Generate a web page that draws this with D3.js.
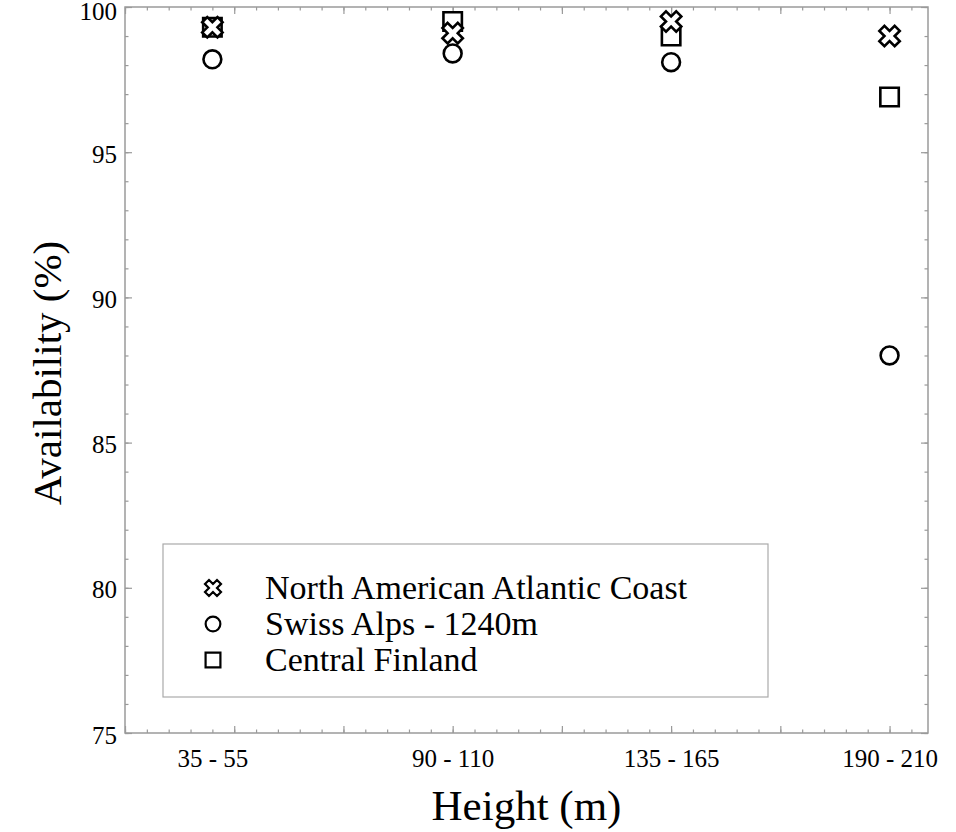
<!DOCTYPE html>
<html>
<head>
<meta charset="utf-8">
<script src="https://cdn.jsdelivr.net/npm/d3@7"></script>
<style>
  body { margin: 0; background: #fff; }
  svg { font-family: "Liberation Serif", "DejaVu Serif", serif; }
  .frame .domain { display: none; }
  .frame line { stroke: #9a9a9a; stroke-width: 1.2; }
</style>
</head>
<body>
<div id="chart"></div>
<script>
// Height bands, placed at their centre height (m)
const heightLabels = ["35 - 55", "90 - 110", "135 - 165", "190 - 210"];
const heightCentres = [45, 100, 150, 200];

// Availability (%) per site
const atlanticCoast = [99.3, 99.1, 99.5, 99.0];
const swissAlps = [98.2, 98.4, 98.1, 88.0];
const centralFinland = [99.3, 99.5, 99.0, 96.9];

const yTicks = [75, 80, 85, 90, 95, 100];

const width = 956, height = 832;
const plot = { left: 125, right: 928, top: 7, bottom: 733 };
const serif = '"Liberation Serif", "DejaVu Serif", serif';

const svg = d3.select("#chart")
    .append("svg")
    .attr("width", width)
    .attr("height", height);

const x = d3.scaleLinear()
    .domain([25, 208.8])
    .range([plot.left, plot.right]);

const y = d3.scaleLinear()
    .domain([75, 100])
    .range([plot.bottom, plot.top]);

// minor + major ticks, inward, on all four sides
const xMinor = d3.range(25, 209, 5);
const xMajor = d3.range(25, 209, 25);
const yMinor = d3.range(75, 100.1, 1);

function frameAxis(axisFn, scale, values, size, tx, ty) {
    svg.append("g")
        .attr("class", "frame")
        .attr("transform", `translate(${tx},${ty})`)
        .call(axisFn(scale).tickValues(values).tickSize(size).tickFormat(""));
}

frameAxis(d3.axisBottom, x, xMinor, -3.5, 0, plot.bottom);
frameAxis(d3.axisBottom, x, xMajor, -7, 0, plot.bottom);
frameAxis(d3.axisTop, x, xMinor, -3.5, 0, plot.top);
frameAxis(d3.axisTop, x, xMajor, -7, 0, plot.top);
frameAxis(d3.axisLeft, y, yMinor, -3.5, plot.left, 0);
frameAxis(d3.axisLeft, y, yTicks, -7, plot.left, 0);
frameAxis(d3.axisRight, y, yMinor, -3.5, plot.right, 0);
frameAxis(d3.axisRight, y, yTicks, -7, plot.right, 0);

// plot border
svg.append("rect")
    .attr("x", plot.left)
    .attr("y", plot.top)
    .attr("width", plot.right - plot.left)
    .attr("height", plot.bottom - plot.top)
    .attr("fill", "none")
    .attr("stroke", "#9a9a9a")
    .attr("stroke-width", 1.5);

// tick labels
const yAxis = d3.axisLeft(y).tickValues(yTicks).tickSize(0).tickPadding(8);
svg.append("g")
    .attr("transform", `translate(${plot.left},0)`)
    .call(yAxis)
    .attr("font-family", serif)
    .attr("font-size", 25)
    .call(g => g.select(".domain").remove())
    .selectAll("text")
    .attr("dy", d => d === 100 ? "0.5em" : "0.4em")
    .style("fill", "#000");

const xAxis = d3.axisBottom(x)
    .tickValues(heightCentres)
    .tickFormat((d, i) => heightLabels[i])
    .tickSize(0)
    .tickPadding(16);
svg.append("g")
    .attr("transform", `translate(0,${plot.bottom})`)
    .call(xAxis)
    .attr("font-family", serif)
    .attr("font-size", 25)
    .call(g => g.select(".domain").remove())
    .selectAll("text")
    .style("fill", "#000");

// axis titles
svg.append("text")
    .attr("x", (plot.left + plot.right) / 2)
    .attr("y", 820)
    .attr("text-anchor", "middle")
    .style("font-size", "43px")
    .text("Height (m)");

svg.append("text")
    .attr("transform", `translate(61,373) rotate(-90)`)
    .attr("text-anchor", "middle")
    .style("font-size", "41px")
    .text("Availability (%)");

// markers
const series = [
    { name: "Central Finland", values: centralFinland, type: d3.symbolSquare, size: 340, rot: 0, lsize: 220 },
    { name: "Swiss Alps - 1240m", values: swissAlps, type: d3.symbolCircle, size: 250, rot: 0, lsize: 170 },
    { name: "North American Atlantic Coast", values: atlanticCoast, type: d3.symbolCross, size: 260, rot: 45, lsize: 160 }
];

series.forEach(s => {
    svg.append("g")
        .selectAll("path")
        .data(s.values)
        .enter()
        .append("path")
        .attr("d", d3.symbol().type(s.type).size(s.size))
        .attr("transform", (d, i) => `translate(${x(heightCentres[i])},${y(d)}) rotate(${s.rot})`)
        .attr("fill", "#fff")
        .attr("stroke", "#000")
        .attr("stroke-width", 2.6);
});

// legend
const legend = svg.append("g");
legend.append("rect")
    .attr("x", 163)
    .attr("y", 544)
    .attr("width", 605)
    .attr("height", 153)
    .attr("fill", "#fff")
    .attr("stroke", "#aaa")
    .attr("stroke-width", 1.2);

const legendOrder = series.slice().reverse();
legendOrder.forEach((s, i) => {
    const cy = 588 + i * 36;
    legend.append("path")
        .attr("d", d3.symbol().type(s.type).size(s.lsize))
        .attr("transform", `translate(213,${cy}) rotate(${s.rot})`)
        .attr("fill", "#fff")
        .attr("stroke", "#000")
        .attr("stroke-width", 2.2);
    legend.append("text")
        .attr("x", 265)
        .attr("y", cy + 11)
        .style("font-size", "34px")
        .text(s.name);
});
</script>
</body>
</html>
